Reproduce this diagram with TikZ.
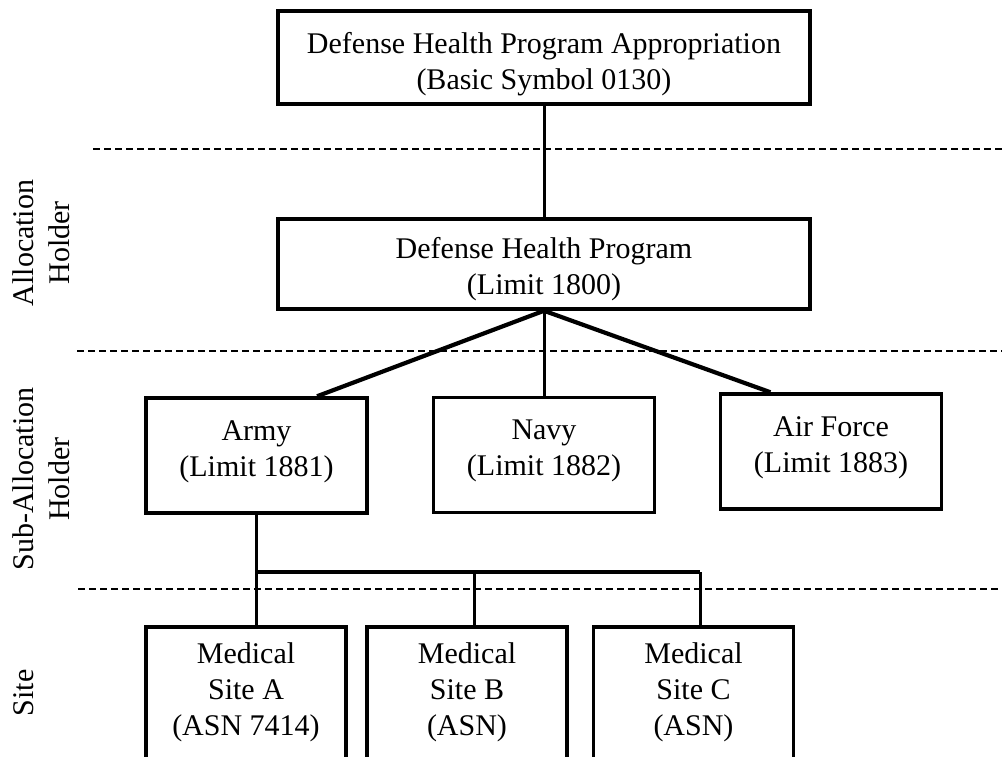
\documentclass[tikz,border=0pt]{standalone}
\usepackage{fontspec}
\setmainfont{Liberation Serif}
\usetikzlibrary{calc}
\begin{document}
\begin{tikzpicture}[x=1pt,y=-1pt,
  every node/.style={font=\fontsize{30}{36}\selectfont},
  box/.style={draw, line width=3.5pt, align=center, inner sep=2pt},
  widebox/.style={box, minimum width=532pt},
  subbox/.style={box, minimum width=221pt, minimum height=115pt, text height=57pt, text depth=15.5pt},
  sitebox/.style={box, minimum width=200pt, minimum height=200pt, text height=93pt, text depth=75.5pt, anchor=north},
  conn/.style={line width=3pt},
  thick conn/.style={line width=4.2pt},
  sep/.style={line width=2pt, dash pattern=on 7pt off 4pt},
  tier/.style={rotate=90, align=center}]
\useasboundingbox (0,0) rectangle (1002,756);
\clip (0,0) rectangle (1002,756);

% tier separators
\draw[sep] (93,149) -- (1002,149);
\draw[sep] (77,351) -- (1002,351);
\draw[sep] (78,589) -- (1002,589);

% tier labels
\node[tier] (lalloc) at (41,243) {Allocation\\Holder};
\node[tier] (lsub) at (41,479) {Sub-Allocation\\Holder};
\node[tier] (lsite) at (24,693) {Site};

% boxes
\node[widebox, minimum height=93pt, text height=70pt, text depth=6pt] (app) at (544,57.5) {Defense Health Program Appropriation\\(Basic Symbol 0130)};
\node[widebox, minimum height=90pt, text height=66pt, text depth=6pt] (dhp) at (544,264) {Defense Health Program\\(Limit 1800)};
\node[subbox] (army) at (256.5,455.5) {Army\\(Limit 1881)};
\node[subbox] (navy) at (544,455) {Navy\\(Limit 1882)};
\node[subbox] (af) at (831,451.5) {Air Force\\(Limit 1883)};
\node[sitebox] (ma) at (246,625) {Medical\\Site A\\(ASN 7414)};
\node[sitebox] (mb) at (467,625) {Medical\\Site B\\(ASN)};
\node[sitebox] (mc) at (693.5,625) {Medical\\Site C\\(ASN)};

% connectors
\draw[conn] (app.south) -- (dhp.north);
\draw[thick conn] (dhp.south) -- ($(army.north west)!0.77!(army.north east)$);
\draw[conn] (dhp.south) -- (navy.north);
\draw[thick conn] (dhp.south) -- ($(af.north west)!0.23!(af.north east)$);

\coordinate (busL) at (256.5,572);
\coordinate (busM) at (474,572);
\coordinate (busR) at (700,572);
\draw[conn] (army.south) -- (busL);
\draw[thick conn] (busL) -- (busR);
\draw[conn] (busL) -- (busL |- ma.north);
\draw[conn] (busM) -- (busM |- mb.north);
\draw[conn] (busR) -- (busR |- mc.north);
\end{tikzpicture}
\end{document}
